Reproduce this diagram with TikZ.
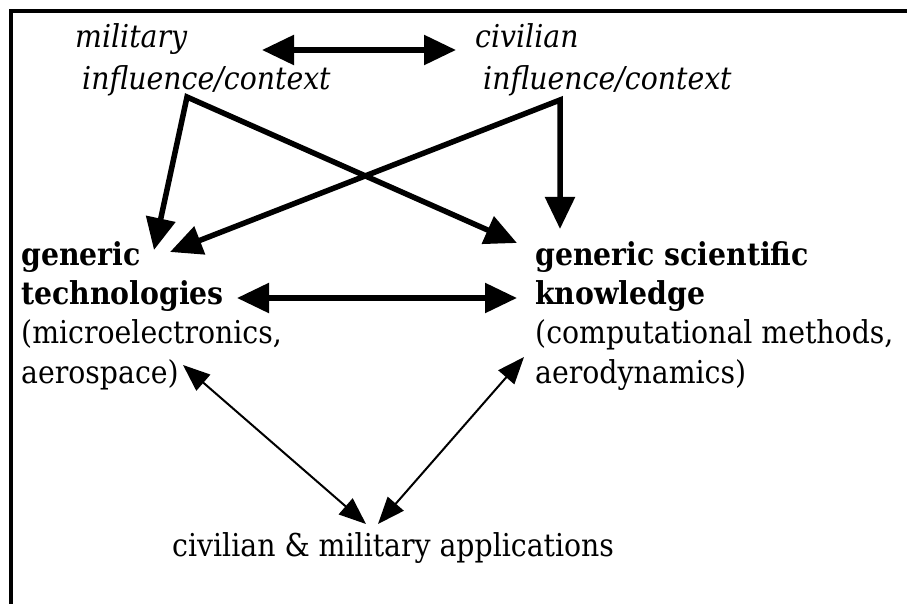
\documentclass[tikz,border=0pt]{standalone}
\usepackage{fontspec}
\setmainfont{DejaVu Serif Condensed}
\usetikzlibrary{arrows.meta}

\begin{document}
\begin{tikzpicture}[x=1pt, y=-1pt,
	txt/.style={anchor=base west, inner sep=0pt, font=\fontsize{31.5}{38}\selectfont},
	ctx/.style={txt, font=\fontsize{31.5}{38}\selectfont\itshape},
	head/.style={txt, font=\fontsize{31.5}{38}\selectfont\bfseries},
	bigboth/.style={line width=5.5pt, {Triangle[length=32pt, width=29pt]}-{Triangle[length=32pt, width=29pt]}},
	thinboth/.style={line width=2pt, {Triangle[length=27pt, width=21pt]}-{Triangle[length=27pt, width=21pt]}}]

%frame
\useasboundingbox (0,0) rectangle (907,604);
\draw[line width=4pt] (11,604) |- (907,11);

%influences
\node[ctx] (mil1) at (75,48) {military};
\node[ctx] (mil2) at (82,90) {influence/context};
\node[ctx] (civ1) at (475,48) {civilian};
\node[ctx] (civ2) at (483,90) {influence/context};

%technologies
\node[head] (tech1) at (21,265) {generic};
\node[head] (tech2) at (21,304) {technologies};
\node[txt] (tech3) at (21,343) {(microelectronics,};
\node[txt] (tech4) at (21,383) {aerospace)};

%knowledge
\node[head] (sci1) at (535,265) {generic scientific};
\node[head] (sci2) at (535,304) {knowledge};
\node[txt] (sci3) at (535,343) {(computational methods,};
\node[txt] (sci4) at (535,383) {aerodynamics)};

%applications
\node[txt] (appl) at (172,556) {civilian \& military applications};

%arrows
\draw[bigboth] ([shift={(187,2)}]mil1.base west) -- ([shift={(-19,2)}]civ1.base west);
\draw[bigboth] ([shift={(133,-15)}]tech1.base west) -- ([shift={(105,7)}]mil2.base west) -- ([shift={(-18,-22)}]sci1.base west);
\draw[bigboth] ([shift={(149,-13)}]tech1.base west) -- ([shift={(77,10)}]civ2.base west) -- ([shift={(25,-36)}]sci1.base west);
\draw[bigboth] ([shift={(216,-6)}]tech2.base west) -- ([shift={(-18,-6)}]sci2.base west);
\draw[thinboth] ([shift={(162,-18)}]tech4.base west) -- ([shift={(194,-32)}]appl.base west);
\draw[thinboth] ([shift={(-11,-26)}]sci4.base west) -- ([shift={(206,-32)}]appl.base west);

\end{tikzpicture}
\end{document}
